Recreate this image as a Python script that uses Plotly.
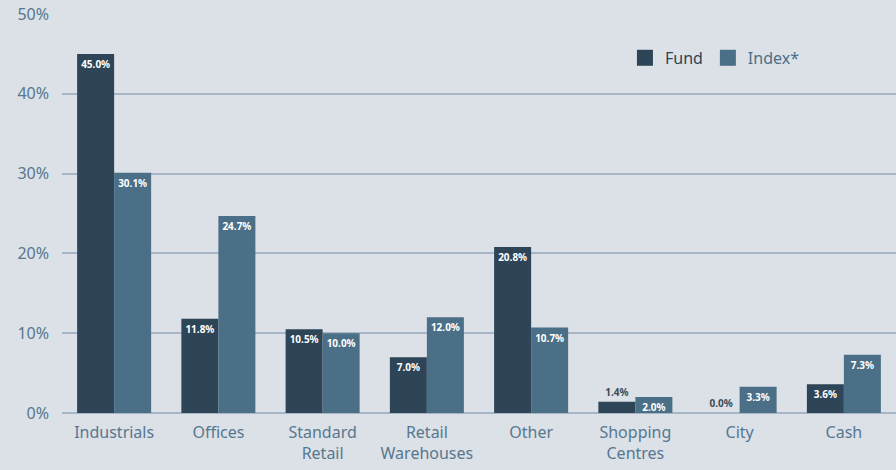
import plotly.graph_objects as go

categories = ["Industrials", "Offices", "Standard<br>Retail", "Retail<br>Warehouses",
              "Other", "Shopping<br>Centres", "City", "Cash"]
fund = [45.0, 11.8, 10.5, 7.0, 20.8, 1.4, 0.0, 3.6]
index = [30.1, 24.7, 10.0, 12.0, 10.7, 2.0, 3.3, 7.3]
y_ticks = [0, 10, 20, 30, 40, 50]

FUND_C = "#2d4556"
INDEX_C = "#4a6f87"
BG = "#dce0e7"
TICK_C = "#56788f"
GRID_C = "#a6b6c6"

def positions(vals, small=2.0):
    return ["outside" if v < small else "inside" for v in vals]

def colors(vals, small=2.0):
    return ["#3a4a56" if v < small else "white" for v in vals]

fig = go.Figure()
for name, vals, col in [("Fund", fund, FUND_C), ("Index*", index, INDEX_C)]:
    fig.add_trace(go.Bar(
        name=name, x=categories, y=vals, marker=dict(color=col, line=dict(width=0)),
        text=[f"{v:.1f}%" for v in vals], textposition=positions(vals),
        insidetextanchor="end", cliponaxis=False, showlegend=False,
        textfont=dict(family="Noto Sans", size=10, color=colors(vals), weight="bold"),
        textangle=0,
    ))
# legend entries with larger square swatches and series-coloured text
for name, col in [("Fund", FUND_C), ("Index*", INDEX_C)]:
    fig.add_trace(go.Scatter(
        x=[None], y=[None], mode="markers",
        name=f"<span style='color:{col}'>{name}</span>",
        marker=dict(symbol="square", size=16, color=col),
    ))

fig.update_layout(
    width=896, height=470,
    margin=dict(l=62, r=0, t=14, b=57),
    paper_bgcolor=BG, plot_bgcolor=BG,
    barmode="group", bargap=0.29, bargroupgap=0,
    uniformtext=dict(minsize=10, mode="show"),
    font=dict(family="Noto Sans", color=TICK_C, size=16),
    legend=dict(orientation="h", x=0.675, y=0.89, xanchor="left", yanchor="middle",
                font=dict(size=16), bgcolor="rgba(0,0,0,0)",
                itemwidth=30, traceorder="normal", itemsizing="trace"),
    xaxis=dict(showgrid=False, showline=False, ticks="", ticklabelstandoff=8,
               tickfont=dict(size=16, color=TICK_C)),
    yaxis=dict(range=[0, 50], tickvals=y_ticks, ticktext=[f"{t}%" for t in y_ticks],
               showgrid=True, gridcolor=GRID_C, gridwidth=1.5,
               zeroline=True, zerolinecolor=GRID_C, zerolinewidth=2,
               tickfont=dict(size=16, color=TICK_C), ticklabelstandoff=12),
)

fig.write_html("out.html")
